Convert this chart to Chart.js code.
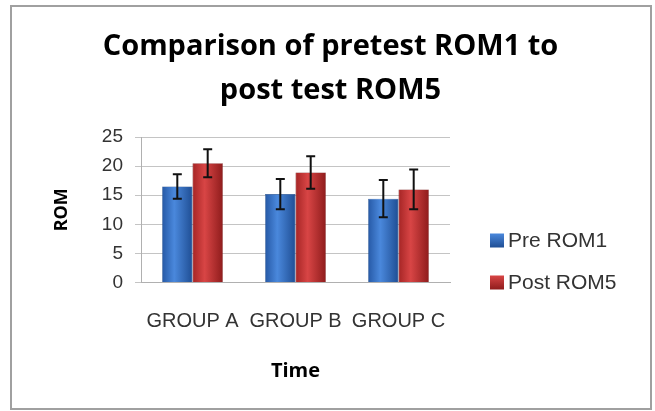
<!DOCTYPE html>
<html>
<head>
<meta charset="utf-8">
<script src="https://cdn.jsdelivr.net/npm/chart.js@4"></script>
<style>
  html, body { margin: 0; padding: 0; background: #ffffff; }
  #wrap { position: relative; width: 655px; height: 411px; }
</style>
</head>
<body>
<div id="wrap"><canvas id="c" width="655" height="411"></canvas></div>
<script>
// ---- data ----
const categories = ['GROUP A', 'GROUP B', 'GROUP C'];
const seriesNames = ['Pre ROM1', 'Post ROM5'];
const preROM1 = [16.5, 15.2, 14.4];
const postROM5 = [20.5, 18.9, 16.0];
const preError = [2.1, 2.6, 3.2];
const postError = [2.4, 2.8, 3.4];
const yMin = 0, yMax = 25, yStep = 5;
const chartTitle = ['Comparison of pretest ROM1 to', 'post test ROM5'];
const xTitle = 'Time';
const yTitle = 'ROM';

const errors = [preError, postError];
const baseColors = [
  ['#2659a6', '#4a88dc', '#1f4e94'],
  ['#a52525', '#d84545', '#8f1c1c']
];
const flatColors = ['#3f7bcf', '#c83a3a'];
const CAT_PCT = 0.59;

// bevel-like horizontal gradient, positioned from the x scale of the bar's category
function barFill(ctx) {
  const chart = ctx.chart;
  const xs = chart.scales && chart.scales.x;
  const di = ctx.datasetIndex;
  if (!xs || !chart.chartArea || ctx.dataIndex === undefined) return flatColors[di];
  const center = xs.getPixelForValue(ctx.dataIndex);
  const catW = xs.width / categories.length;
  const bw = catW * CAT_PCT / chart.data.datasets.length;
  const x0 = center - catW * CAT_PCT / 2 + di * bw;
  const x1 = x0 + bw;
  if (!isFinite(x0) || !isFinite(x1) || x1 <= x0) return flatColors[di];
  const g = chart.ctx.createLinearGradient(x0, 0, x1, 0);
  g.addColorStop(0, baseColors[di][0]);
  g.addColorStop(0.4, baseColors[di][1]);
  g.addColorStop(1, baseColors[di][2]);
  return g;
}

const framePlugin = {
  id: 'frame',
  beforeDraw(chart) {
    const c = chart.ctx;
    c.save();
    c.fillStyle = '#ffffff';
    c.fillRect(0, 0, chart.width, chart.height);
    c.strokeStyle = '#a0a0a0';
    c.lineWidth = 2;
    c.strokeRect(11, 6, 640, 403);
    c.restore();
  }
};

const errorBarPlugin = {
  id: 'errorBars',
  afterDatasetsDraw(chart) {
    const c = chart.ctx;
    const y = chart.scales.y;
    c.save();
    c.strokeStyle = '#111111';
    c.lineWidth = 2;
    chart.data.datasets.forEach((ds, di) => {
      const meta = chart.getDatasetMeta(di);
      meta.data.forEach((bar, i) => {
        const v = ds.data[i], e = errors[di][i];
        const yt = y.getPixelForValue(v + e);
        const yb = y.getPixelForValue(v - e);
        const x = bar.x;
        c.beginPath();
        c.moveTo(x, yt); c.lineTo(x, yb);
        c.moveTo(x - 4.5, yt); c.lineTo(x + 4.5, yt);
        c.moveTo(x - 4.5, yb); c.lineTo(x + 4.5, yb);
        c.stroke();
      });
    });
    c.restore();
  }
};

const legendPlugin = {
  id: 'sideLegend',
  afterDraw(chart) {
    const c = chart.ctx;
    const a = chart.chartArea;
    c.save();
    c.font = '21px "Liberation Sans", Arial, sans-serif';
    c.textBaseline = 'middle';
    c.textAlign = 'left';
    const ys = [a.bottom - 42, a.bottom];
    seriesNames.forEach((name, i) => {
      const bx = a.right + 40, by = ys[i] - 7;
      const g = c.createLinearGradient(bx, by, bx, by + 14);
      g.addColorStop(0, baseColors[i][1]);
      g.addColorStop(1, baseColors[i][2]);
      c.fillStyle = g;
      c.fillRect(bx, by, 14, 14);
      c.fillStyle = '#333333';
      c.fillText(name, bx + 18, ys[i] + 1);
    });
    c.restore();
  }
};

new Chart(document.getElementById('c'), {
  type: 'bar',
  data: {
    labels: categories,
    datasets: [
      { label: seriesNames[0], data: preROM1, backgroundColor: barFill, borderColor: '#1c4888', borderWidth: 0.6 },
      { label: seriesNames[1], data: postROM5, backgroundColor: barFill, borderColor: '#7a1818', borderWidth: 0.6 }
    ]
  },
  options: {
    responsive: false,
    animation: false,
    devicePixelRatio: 1,
    layout: { padding: { top: 8, left: 12, right: 6, bottom: 8 } },
    datasets: { bar: { categoryPercentage: CAT_PCT, barPercentage: 1.0 } },
    plugins: {
      legend: { display: false },
      tooltip: { enabled: false },
      title: {
        display: true,
        text: chartTitle,
        color: '#000000',
        font: { family: '"Open Sans", sans-serif', size: 29, weight: 'bold', lineHeight: 1.5 },
        padding: { top: 17, bottom: 25 }
      }
    },
    scales: {
      x: {
        grid: { display: false, drawTicks: false },
        border: { display: true, color: '#b0b0b0', width: 1 },
        ticks: { color: '#333333', font: { family: '"Liberation Sans", Arial, sans-serif', size: 20 }, padding: 27, maxRotation: 0 },
        title: { display: true, text: xTitle, color: '#000000', font: { family: '"Open Sans", sans-serif', size: 20, weight: 'bold' }, padding: { top: 0, bottom: 20 } },
        afterFit(s) { s.height = 120.5; }
      },
      y: {
        min: yMin, max: yMax,
        grid: { color: '#c4c4c4', lineWidth: 1, tickLength: 6, drawTicks: true },
        border: { display: true, color: '#b0b0b0', width: 1 },
        ticks: { stepSize: yStep, color: '#333333', font: { family: '"Liberation Sans", Arial, sans-serif', size: 19 }, padding: 12 },
        title: { display: true, text: yTitle, color: '#000000', font: { family: '"Open Sans", sans-serif', size: 18, weight: 'bold' }, padding: { top: 39, bottom: 0 } },
        afterFit(s) { s.width = 129; }
      },
      y2: {
        position: 'right',
        display: true,
        grid: { display: false, drawTicks: false },
        border: { display: false },
        ticks: { display: false },
        afterFit(s) { s.width = 199; }
      }
    }
  },
  plugins: [framePlugin, errorBarPlugin, legendPlugin]
});
</script>
</body>
</html>
